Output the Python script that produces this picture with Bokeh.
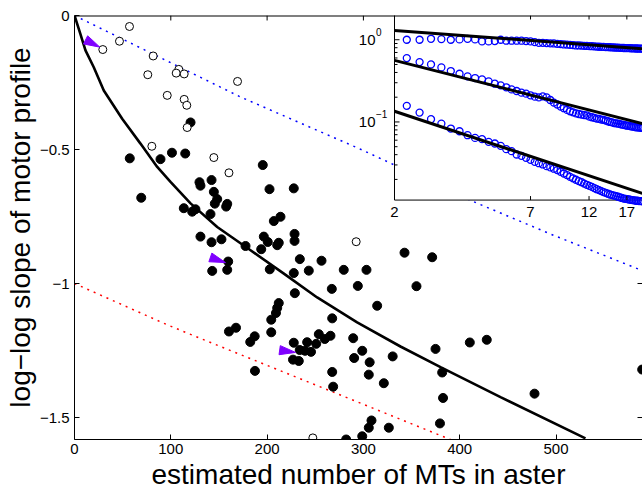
import math
from bokeh.plotting import figure
from bokeh.models import Range1d, LogScale, FixedTicker
from bokeh.embed import file_html
from bokeh.resources import INLINE
from bokeh.core.properties import value

# ---------------- data ----------------
mt_filled = [120.5, 57.4, 89.3, 101.2, 115.0, 129.8, 130.8, 142.3, 144.7, 148.2,
             69.3, 195.5, 145.7, 158.6, 157.5, 113.5, 122.2, 125.6, 141.2, 202.5,
             227.7, 207.0, 213.9, 130.8, 142.3, 152.6, 196.6, 200.7, 193.9, 210.5,
             212.1, 228.5, 228.5, 177.6, 159.6, 143.0, 158.6, 202.8, 234.0, 256.5,
             243.3, 227.7, 279.6, 303.2, 267.2, 294.2, 228.8, 314.3, 212.1, 210.5,
             209.2, 204.3, 267.6, 160.4, 167.7, 204.3, 182.5, 187.1, 241.6, 251.0,
             253.7, 259.9, 265.8, 289.4, 227.7, 233.9, 239.4, 245.6, 298.8, 330.4,
             290.4, 306.5, 226.9, 232.9, 187.4, 267.6, 305.6, 321.2, 268.6, 374.9,
             410.5, 428.1, 381.8, 382.7, 477.7, 308.4, 305.6, 298.8, 282.1, 326.4,
             379.5, 342.7, 371.4, 355.1, 589.5]
slope_filled = [-0.399, -0.533, -0.536, -0.512, -0.515, -0.622, -0.635, -0.614, -0.658, -0.685,
                -0.680, -0.558, -0.702, -0.703, -0.713, -0.719, -0.732, -0.723, -0.741, -0.648,
                -0.645, -0.767, -0.751, -0.825, -0.846, -0.835, -0.825, -0.845, -0.872, -0.857,
                -0.848, -0.815, -0.841, -0.860, -0.918, -0.953, -0.949, -0.947, -0.909, -0.915,
                -0.952, -0.961, -0.949, -0.949, -1.020, -1.009, -1.036, -1.083, -1.073, -1.091,
                -1.110, -1.135, -1.130, -1.179, -1.165, -1.182, -1.218, -1.197, -1.219, -1.225,
                -1.189, -1.207, -1.195, -1.204, -1.221, -1.248, -1.251, -1.255, -1.251, -1.272,
                -1.278, -1.294, -1.284, -1.289, -1.326, -1.330, -1.340, -1.372, -1.385, -1.244,
                -1.220, -1.210, -1.332, -1.427, -1.411, -1.511, -1.538, -1.570, -1.582, -1.538,
                -1.522, -0.885, -0.902, -1.010, -1.321]

mt_open = [57.1, 46.7, 29.4, 81.7, 76.1, 108.3, 105.6, 113.9, 169.3, 96.3,
           113.9, 116.6, 117.0, 80.3, 144.7, 160.4, 292.5, 247.5]
slope_open = [-0.041, -0.096, -0.127, -0.151, -0.221, -0.201, -0.215, -0.218, -0.246, -0.298,
              -0.313, -0.335, -0.418, -0.488, -0.530, -0.587, -0.844, -1.576]

curve_mt = [0, 6.0, 11.4, 20.0, 30.4, 49.5, 68.5, 85.9, 99.7, 120.5, 148.2, 182.8,
            217.4, 252.0, 293.5, 338.5, 380.1, 442.4, 530.6]
curve_slope = [0, -0.068, -0.130, -0.193, -0.280, -0.385, -0.478, -0.565, -0.621, -0.701,
               -0.789, -0.876, -0.963, -1.052, -1.145, -1.235, -1.312, -1.424, -1.578]

upper_mt = [0, 172.4, 295.2, 414.6, 497.4, 587.7]
upper_slope = [0, -0.304, -0.496, -0.695, -0.820, -0.949]

lower_mt = [0, 96.3, 130.8, 258.9, 390.4]
lower_slope = [-1.0, -1.154, -1.205, -1.391, -1.582]

arrow_mt = [26.3, 156.8, 229.5]
arrow_slope = [-0.118, -0.922, -1.257]
arrow_dir_deg = [-27, -19, -8]

x_ticks = [0, 100, 200, 300, 400, 500]
top_ticks = [100, 200, 300]
y_ticks = [-1.5, -1, -0.5, 0]
y_tick_labels = ["\u22121.5", "\u22121", "\u22120.5", "0"]
right_ticks = [-1.5, -1]

# inset: profiles on log-log axes
inset_x = [2.24, 2.52, 2.80, 3.08, 3.36, 3.64, 3.92, 4.20, 4.48, 4.76,
           5.04, 5.32, 5.60, 5.88, 6.16, 6.44, 6.72, 7.00, 7.28, 7.56,
           7.84, 8.12, 8.40, 8.68, 8.96, 9.24, 9.52, 9.80, 10.08, 10.36,
           10.64, 10.92, 11.20, 11.48, 11.76, 12.04, 12.32, 12.60, 12.88, 13.16,
           13.44, 13.72, 14.00, 14.28, 14.56, 14.84, 15.12, 15.40, 15.68, 15.96,
           16.24, 16.52, 16.80, 17.08, 17.36, 17.64, 17.92, 18.20, 18.48, 18.76,
           19.04, 19.32, 19.60]
inset_top = [1.000, 1.000, 1.027, 1.018, 1.000, 1.009, 1.027, 1.009, 0.954, 0.954,
             0.964, 1.000, 0.973, 0.973, 0.973, 0.973, 0.964, 0.954, 0.937, 0.918,
             0.918, 0.910, 0.905, 0.901, 0.890, 0.884, 0.876, 0.872, 0.868, 0.860,
             0.852, 0.852, 0.848, 0.844, 0.840, 0.837, 0.834, 0.830, 0.826, 0.822,
             0.820, 0.818, 0.815, 0.812, 0.810, 0.807, 0.805, 0.803, 0.800, 0.798,
             0.796, 0.794, 0.792, 0.791, 0.790, 0.788, 0.786, 0.785, 0.783, 0.782,
             0.780, 0.779, 0.778]
inset_mid = [0.598, 0.535, 0.501, 0.461, 0.416, 0.386, 0.359, 0.342, 0.330, 0.312,
             0.292, 0.279, 0.264, 0.249, 0.238, 0.227, 0.221, 0.211, 0.203, 0.199,
             0.205, 0.199, 0.185, 0.172, 0.163, 0.154, 0.147, 0.140, 0.135, 0.131,
             0.127, 0.125, 0.123, 0.121, 0.120, 0.116, 0.114, 0.112, 0.110, 0.109,
             0.107, 0.106, 0.104, 0.102, 0.100, 0.099, 0.097, 0.096, 0.0955, 0.094,
             0.093, 0.092, 0.091, 0.090, 0.0895, 0.0885, 0.088, 0.087, 0.086, 0.086,
             0.0855, 0.085, 0.085]
inset_bot = [0.157, 0.130, 0.108, 0.0955, 0.0831, 0.0771, 0.0690, 0.0640, 0.0617, 0.0573,
             0.0547, 0.0512, 0.0467, 0.0441, 0.0402, 0.0387, 0.0366, 0.0346, 0.0327, 0.0315,
             0.0304, 0.0290, 0.0280, 0.0270, 0.0260, 0.0248, 0.0236, 0.0226, 0.0215, 0.0206,
             0.0198, 0.0191, 0.0185, 0.0178, 0.0172, 0.0167, 0.0162, 0.0157, 0.0152, 0.0148,
             0.0144, 0.0140, 0.0137, 0.0134, 0.0131, 0.0129, 0.0127, 0.0125, 0.0123, 0.0121,
             0.0119, 0.0117, 0.0116, 0.0115, 0.0114, 0.0113, 0.0112, 0.0111, 0.0110, 0.0110,
             0.0109, 0.0109, 0.0108]
fit_x = [2.0, 19.6]
fit_top = [1.297, 0.778]
fit_mid = [0.561, 0.0957]
fit_bot = [0.135, 0.0135]
inset_x_ticks = [2, 7, 12, 17]
inset_x_tick_labels = ["2", "7", "12", "17"]
inset_y_ticks = [1.0, 0.1]
inset_y_exponents = ["0", "\u22121"]
inset_minor_y = [0.02, 0.03, 0.04, 0.05, 0.06, 0.07, 0.08, 0.09,
                 0.2, 0.3, 0.4, 0.5, 0.6, 0.7, 0.8, 0.9]

# ---------------- layout constants ----------------
W, H = 642, 492
FL, FT, FB = 74, 15, 52           # frame borders (left, top, bottom)
FW, FH = W - FL, H - FT - FB      # frame size
PX_PER_MT = 0.963
X_END = FW / PX_PER_MT
Y_START = -1.582
PX_X = FW / X_END                 # px per data unit
PX_Y = FH / (0 - Y_START)
FONT = "Liberation Sans"

# inset mapping (pixel positions inside the frame)
IN_LEFT = 320                     # px from frame left where inset x = 2
IN_BOTTOM = 185                   # px from frame top of inset bottom edge
X_DEC = 250.0                     # px per decade, inset x
Y_DEC = 82.4                      # px per decade, inset y
Y_ONE = 24.3                      # px from frame top where inset y = 1


def ix(px):
    return 2.0 * 10 ** ((px - IN_LEFT) / X_DEC)


def iy(px):
    return 10 ** ((Y_ONE - px) / Y_DEC)


p = figure(width=W, height=H, output_backend="svg", toolbar_location=None,
           x_range=Range1d(0, X_END), y_range=Range1d(Y_START, 0),
           min_border_left=FL, min_border_right=0, min_border_top=FT,
           min_border_bottom=FB, background_fill_color="white",
           border_fill_color="white")
p.outline_line_color = None
p.xgrid.visible = False
p.ygrid.visible = False

for ax in (p.xaxis[0], p.yaxis[0]):
    ax.major_tick_in = 5
    ax.major_tick_out = 0
    ax.minor_tick_line_color = None
    ax.axis_line_color = "black"
    ax.major_tick_line_color = "black"
    ax.major_label_text_font = FONT
    ax.major_label_text_font_size = "15px"
    ax.major_label_text_color = "black"
    ax.axis_label_text_font = FONT
    ax.axis_label_text_font_size = "28px"
    ax.axis_label_text_font_style = "normal"
    ax.axis_label_text_color = "black"
p.xaxis.ticker = FixedTicker(ticks=x_ticks)
p.xaxis.major_label_standoff = 4
p.xaxis.axis_label = "estimated number of MTs in aster"
p.xaxis.axis_label_standoff = 2
p.yaxis.ticker = FixedTicker(ticks=y_ticks)
p.yaxis.major_label_overrides = {t: s for t, s in zip(y_ticks, y_tick_labels)}
p.yaxis.major_label_standoff = 5
p.yaxis.axis_label = "log\u2212log slope of motor profile"
p.yaxis.axis_label_standoff = 1

# main plot
p.line(lower_mt, lower_slope, line_color="red", line_width=1.5, line_dash="2 5")
p.line(upper_mt, upper_slope, line_color="blue", line_width=1.5, line_dash="2 5")
p.line(curve_mt, curve_slope, line_color="black", line_width=2.6)
p.scatter(mt_filled, slope_filled, size=9, fill_color="black", line_color="black")
p.scatter(mt_open, slope_open, size=8, fill_color="white", line_color="black", line_width=1)

# arrowheads
ARROW_LEN, ARROW_HALF = 16, 4.6
tri_xs, tri_ys = [], []
for tx, ty, a in zip(arrow_mt, arrow_slope, arrow_dir_deg):
    r = math.radians(-a)
    ux, uy = math.cos(r), math.sin(r)
    bx, by = -ARROW_LEN * ux, -ARROW_LEN * uy
    nx, ny = -uy, ux
    pts = [(0, 0), (bx + ARROW_HALF * nx, by + ARROW_HALF * ny),
           (bx - ARROW_HALF * nx, by - ARROW_HALF * ny)]
    tri_xs.append([tx + sx / PX_X for sx, sy in pts])
    tri_ys.append([ty - sy / PX_Y for sx, sy in pts])
p.patches(tri_xs, tri_ys, fill_color="#7f00ff", line_color="#7f00ff", line_width=1)

# inward ticks of the (off-page) right spine
p.segment(x0=[X_END - 5 / PX_X] * len(right_ticks), y0=right_ticks,
          x1=[X_END] * len(right_ticks), y1=right_ticks, line_color="black", line_width=1)

# inset on its own log scales
p.extra_x_ranges = {"ix": Range1d(ix(0), ix(FW))}
p.extra_y_ranges = {"iy": Range1d(iy(FH), iy(0))}
p.extra_x_scales = {"ix": LogScale()}
p.extra_y_scales = {"iy": LogScale()}
R = dict(x_range_name="ix", y_range_name="iy")

in_bottom = iy(IN_BOTTOM)
p.quad(left=[2.0], right=[ix(FW + 40)], bottom=[in_bottom], top=[iy(-20)],
       fill_color="white", line_color="black", line_width=1, **R)
for ys in (inset_top, inset_mid, inset_bot):
    p.scatter(inset_x, ys, size=7, fill_color=None, line_color="blue",
              line_width=1.3, **R)
for ys in (fit_top, fit_mid, fit_bot):
    p.line(fit_x, ys, line_color="black", line_width=3, **R)

# inset ticks
tx0, tx1, ty0, ty1 = [], [], [], []
for t in inset_x_ticks[1:]:
    tx0 += [t, t]
    tx1 += [t, t]
    ty0 += [in_bottom, iy(0)]
    ty1 += [iy(IN_BOTTOM - 4), iy(4)]
for t in inset_y_ticks:
    tx0.append(2.0); tx1.append(ix(IN_LEFT + 5)); ty0.append(t); ty1.append(t)
for t in inset_minor_y:
    tx0.append(2.0); tx1.append(ix(IN_LEFT + 3)); ty0.append(t); ty1.append(t)
p.segment(tx0, ty0, tx1, ty1, line_color="black", line_width=1, **R)

# inset tick labels
p.text(inset_x_ticks, [iy(IN_BOTTOM + 7)] * len(inset_x_ticks), text=inset_x_tick_labels,
       text_align="center", text_baseline="top", text_font=value(FONT),
       text_font_size="15px", text_color="black", **R)
p.text([ix(IN_LEFT - 19)] * 2, inset_y_ticks, text=["10", "10"], text_align="right",
       text_baseline="middle", text_font=value(FONT), text_font_size="15px",
       text_color="black", **R)
p.text([ix(IN_LEFT - 18.5)] * 2, inset_y_ticks, text=inset_y_exponents, text_align="left",
       text_baseline="middle", y_offset=-8, text_font=value(FONT), text_font_size="10px",
       text_color="black", **R)

# top spine and its inward ticks (drawn over the inset box)
p.segment(x0=[0], y0=[0], x1=[X_END], y1=[0], line_color="black", line_width=2)
p.segment(x0=top_ticks, y0=[0] * len(top_ticks), x1=top_ticks,
          y1=[-5 / PX_Y] * len(top_ticks), line_color="black", line_width=1)

open("out.html", "w").write(file_html(p, INLINE))
